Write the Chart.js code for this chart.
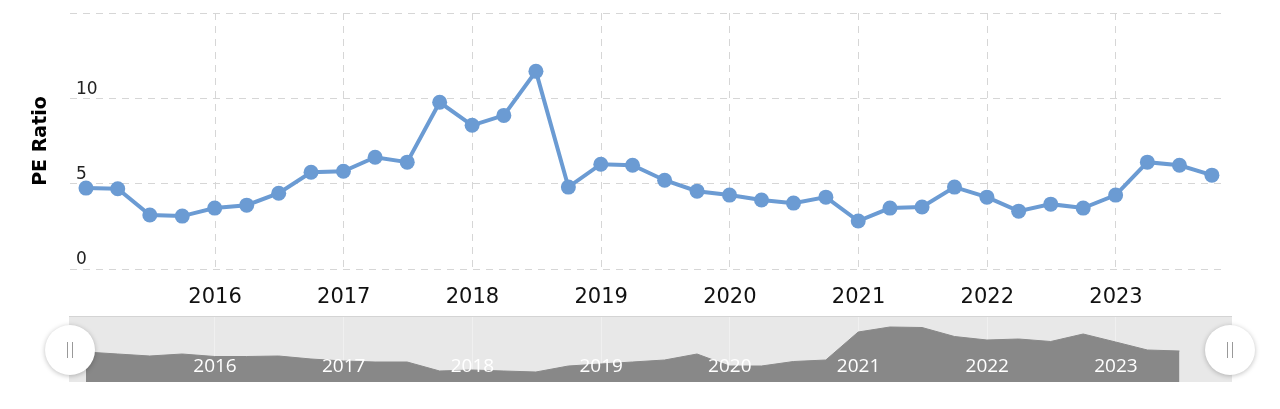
<!DOCTYPE html>
<html>
<head>
<meta charset="utf-8">
<script src="https://cdn.jsdelivr.net/npm/chart.js@4.4.0/dist/chart.umd.min.js"></script>
<style>
  body { margin: 0; background: #fff; width: 1280px; height: 409px; overflow: hidden; position: relative; }
  #main { position: absolute; left: 0; top: 0; }
  #navBox { position: absolute; left: 69px; top: 317px; width: 1163px; height: 65px; background: #e8e8e8; }
  #navBox:before { content: ""; position: absolute; left: 0; top: -1px; right: 0; height: 1px; background: #d4d4d4; }
  #nav { position: absolute; left: 0; top: 0; }
  .handle { position: absolute; width: 50px; height: 50px; border-radius: 50%; background: #fff;
            box-shadow: 0 1px 5px rgba(0,0,0,0.25); top: 325px; }
  .handle span { position: absolute; top: 17px; width: 1px; height: 16px; background: #999; }
</style>
</head>
<body>
<canvas id="main" width="1280" height="312"></canvas>
<div id="navBox"><canvas id="nav" width="1163" height="65"></canvas></div>
<div class="handle" style="left:45px"><span style="left:22px"></span><span style="left:27px"></span></div>
<div class="handle" style="left:1205px"><span style="left:22px"></span><span style="left:27px"></span></div>

<script>
// quarter end dates
const quarters = [
    "2014-12-31", "2015-03-31", "2015-06-30", "2015-09-30",
    "2015-12-31", "2016-03-31", "2016-06-30", "2016-09-30",
    "2016-12-31", "2017-03-31", "2017-06-30", "2017-09-30",
    "2017-12-31", "2018-03-31", "2018-06-30", "2018-09-30",
    "2018-12-31", "2019-03-31", "2019-06-30", "2019-09-30",
    "2019-12-31", "2020-03-31", "2020-06-30", "2020-09-30",
    "2020-12-31", "2021-03-31", "2021-06-30", "2021-09-30",
    "2021-12-31", "2022-03-31", "2022-06-30", "2022-09-30",
    "2022-12-31", "2023-03-31", "2023-06-30", "2023-09-30"
];

const peRatio = [
    4.74, 4.70, 3.16, 3.10,
    3.57, 3.74, 4.44, 5.67,
    5.73, 6.55, 6.26, 9.77,
    8.42, 9.00, 11.58, 4.80,
    6.14, 6.08, 5.20, 4.56,
    4.33, 4.04, 3.86, 4.21,
    2.81, 3.57, 3.63, 4.80,
    4.21, 3.39, 3.80, 3.57,
    4.33, 6.26, 6.08, 5.50
];

// navigator series (relative height, stops one quarter earlier)
const navValues = [
    30, 28, 26, 28,
    25.5, 25.5, 26, 23,
    21, 20, 20, 11,
    12, 11, 10, 16,
    18, 20, 22, 28,
    16, 16, 20.5, 22,
    50, 55, 54.5, 45.5,
    42, 43, 40.5, 48,
    40, 32, 31
];

const yearTicks = [2016, 2017, 2018, 2019, 2020, 2021, 2022, 2023];
const peTicks = [0, 5, 10, 15];

function toYear(s) {
    const d = new Date(s + "T00:00:00Z");
    const start = Date.UTC(d.getUTCFullYear(), 0, 1);
    const end = Date.UTC(d.getUTCFullYear() + 1, 0, 1);
    return d.getUTCFullYear() + (d - start) / (end - start);
}

const blue = "#6b9bd3";
const gridColor = "#d6d6d6";

new Chart(document.getElementById("main").getContext("2d"), {
    type: "line",
    data: {
        datasets: [{
            data: quarters.map((q, i) => ({ x: toYear(q), y: peRatio[i] })),
            borderColor: blue,
            backgroundColor: blue,
            borderWidth: 4,
            pointRadius: 7.5,
            pointBorderWidth: 0,
            pointBackgroundColor: blue,
            tension: 0
        }]
    },
    options: {
        responsive: false,
        animation: false,
        devicePixelRatio: 1,
        layout: { padding: { top: 13, right: 55, bottom: 0, left: 0 } },
        plugins: { legend: { display: false }, tooltip: { enabled: false } },
        scales: {
            x: {
                type: "linear",
                min: 2014.873,
                max: 2023.847,
                afterBuildTicks: (s) => { s.ticks = yearTicks.map(v => ({ value: v })); },
                afterFit: (s) => { s.height = 43; s.paddingLeft = 0; s.paddingRight = 0; },
                grid: { color: gridColor, drawTicks: false },
                border: { display: false, dash: [7, 6] },
                ticks: {
                    color: "#111",
                    padding: 16,
                    maxRotation: 0,
                    font: { family: "DejaVu Sans", size: 21 },
                    callback: (v) => String(v)
                }
            },
            y: {
                min: 0,
                max: 15,
                afterBuildTicks: (s) => { s.ticks = peTicks.map(v => ({ value: v })); },
                afterFit: (s) => { s.width = 70; s.paddingTop = 0; s.paddingBottom = 0; },
                grid: { color: gridColor, drawTicks: false },
                border: { display: false, dash: [7, 6] },
                ticks: {
                    mirror: true,
                    padding: 6,
                    labelOffset: -9,
                    color: "#222",
                    font: { family: "DejaVu Sans", size: 17 },
                    callback: (v) => v === 15 ? "" : String(v)
                },
                title: {
                    display: true,
                    text: "PE Ratio",
                    color: "#000",
                    padding: { top: 30, bottom: 0 },
                    font: { family: "DejaVu Sans", size: 19, weight: "bold" }
                }
            }
        }
    }
});

const navLabels = {
    id: "navLabels",
    afterDraw(chart) {
        const ctx = chart.ctx;
        const xs = chart.scales.x;
        ctx.save();
        ctx.fillStyle = "#fff";
        ctx.font = "19px 'Open Sans'";
        ctx.textAlign = "center";
        ctx.textBaseline = "middle";
        yearTicks.forEach(y => ctx.fillText(String(y), xs.getPixelForValue(y), 50));
        ctx.restore();
    }
};

new Chart(document.getElementById("nav").getContext("2d"), {
    type: "line",
    data: {
        datasets: [{
            data: navValues.map((v, i) => ({ x: toYear(quarters[i]), y: v })),
            borderColor: "#888",
            backgroundColor: "#888",
            borderWidth: 1,
            pointRadius: 0,
            fill: "origin",
            tension: 0
        }]
    },
    options: {
        responsive: false,
        animation: false,
        devicePixelRatio: 1,
        layout: { padding: 0 },
        plugins: { legend: { display: false }, tooltip: { enabled: false } },
        scales: {
            x: {
                type: "linear",
                min: 2014.8657,
                max: 2023.9015,
                z: 1,
                afterBuildTicks: (s) => { s.ticks = yearTicks.map(v => ({ value: v })); },
                afterFit: (s) => { s.height = 0; },
                grid: { color: "rgba(255,255,255,0.35)", drawTicks: false },
                border: { display: false },
                ticks: { display: false }
            },
            y: {
                display: false,
                min: 0,
                max: 65
            }
        }
    },
    plugins: [navLabels]
});
</script>
</body>
</html>
